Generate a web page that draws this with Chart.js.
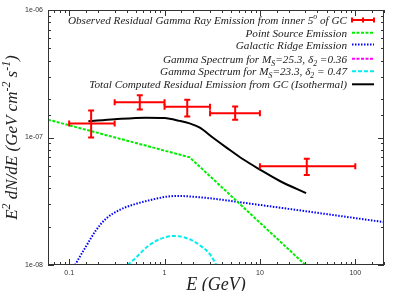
<!DOCTYPE html>
<html>
<head>
<meta charset="utf-8">
<script src="https://cdn.jsdelivr.net/npm/chart.js@4.4.1/dist/chart.umd.min.js"></script>
<style>
  html, body { margin: 0; padding: 0; background: #fff; }
  canvas { display: block; }
</style>
</head>
<body>
<canvas id="c" width="402" height="291"></canvas>
<script>
// observed residual emission, inner 5 deg (red error bars)
var obsE      = [0.17, 0.55, 1.73, 5.5, 31];
var obsELo    = [0.1, 0.3, 1, 3, 10];
var obsEHi    = [0.3, 1, 3, 10, 100];
var obsFlux   = [1.29e-7, 1.89e-7, 1.74e-7, 1.55e-7, 5.95e-8];
var obsFluxLo = [1.0e-7, 1.66e-7, 1.46e-7, 1.38e-7, 5.07e-8];
var obsFluxHi = [1.63e-7, 2.14e-7, 1.98e-7, 1.75e-7, 6.8e-8];

// point source emission
var psE    = [0.06, 1.83, 30];
var psFlux = [1.38e-7, 7.0e-8, 1.0e-8];

// galactic ridge emission
var grE    = [0.115, 0.151, 0.192, 0.245, 0.337, 0.461, 0.696, 1.04, 1.33, 2.33, 9.9, 200];
var grFlux = [1.0e-8, 1.41e-8, 1.88e-8, 2.32e-8, 2.70e-8, 2.96e-8, 3.22e-8, 3.43e-8, 3.48e-8, 3.40e-8, 2.96e-8, 2.17e-8];

// gamma spectrum Ms=25.3 (below the plotted range)
var gs1E    = [];
var gs1Flux = [];

// gamma spectrum Ms=23.3
var gs2E    = [0.41, 0.5, 0.65, 0.85, 1.27, 1.8, 2.4, 3.0, 3.5];
var gs2Flux = [1.0e-8, 1.14e-8, 1.38e-8, 1.57e-8, 1.69e-8, 1.60e-8, 1.41e-8, 1.21e-8, 1.0e-8];

// total computed residual emission (isothermal)
var totE    = [0.159, 0.3, 0.64, 1.0, 1.44, 1.83, 2.32, 3.2, 4.5, 6.6, 9.9, 16, 30.5];
var totFlux = [1.34e-7, 1.39e-7, 1.43e-7, 1.42e-7, 1.35e-7, 1.29e-7, 1.20e-7, 1.0e-7, 8.3e-8, 6.78e-8, 5.63e-8, 4.58e-8, 3.66e-8];

var xTickLabels = ['0.1', '1', '10', '100'];
var yTickLabels = ['1e-08', '1e-07', '1e-06'];

var legendNames = [
  'Observed Residual Gamma Ray Emission from inner 5^{o} of GC',
  'Point Source Emission',
  'Galactic Ridge Emission',
  'Gamma Spectrum for M_{S}=25.3, \u03b4_{2} =0.36',
  'Gamma Spectrum for M_{S}=23.3, \u03b4_{2} = 0.47',
  'Total Computed Residual Emission from GC (Isothermal)'
];

var serif = '"Liberation Serif", "DejaVu Serif", serif';

function pts(xs, ys) {
  return xs.map(function (v, i) { return { x: v, y: ys[i] }; });
}

function parseRich(s) {
  var out = [], re = /([_^])\{([^}]*)\}/g, last = 0, m;
  while ((m = re.exec(s))) {
    if (m.index > last) out.push([s.slice(last, m.index), 0]);
    out.push([m[2], m[1] === '^' ? 1 : -1]);
    last = re.lastIndex;
  }
  if (last < s.length) out.push([s.slice(last), 0]);
  return out;
}

function drawRich(ctx, s, x, y, size, align) {
  var parts = parseRich(s);
  var w = 0;
  parts.forEach(function (p) {
    ctx.font = 'italic ' + (p[1] ? size * 0.7 : size) + 'px ' + serif;
    w += ctx.measureText(p[0]).width;
  });
  var cx = align === 'right' ? x - w : (align === 'center' ? x - w / 2 : x);
  ctx.textAlign = 'left';
  ctx.textBaseline = 'alphabetic';
  parts.forEach(function (p) {
    ctx.font = 'italic ' + (p[1] ? size * 0.7 : size) + 'px ' + serif;
    var dy = p[1] === 1 ? -size * 0.42 : (p[1] === -1 ? size * 0.25 : 0);
    ctx.fillText(p[0], cx, y + dy);
    cx += ctx.measureText(p[0]).width;
  });
}

function isDecade(v) {
  var l = Math.log10(v);
  return Math.abs(l - Math.round(l)) < 1e-6;
}

var errorBars = {
  id: 'errorBars',
  afterDatasetsDraw: function (chart) {
    var ctx = chart.ctx, xs = chart.scales.x, ys = chart.scales.y, a = chart.chartArea;
    ctx.save();
    ctx.beginPath();
    ctx.rect(a.left, a.top, a.right - a.left, a.bottom - a.top);
    ctx.clip();
    ctx.strokeStyle = '#ff0000';
    ctx.lineWidth = 2;
    ctx.setLineDash([]);
    for (var i = 0; i < obsE.length; i++) {
      var px = xs.getPixelForValue(obsE[i]);
      var py = ys.getPixelForValue(obsFlux[i]);
      var x0 = xs.getPixelForValue(obsELo[i]), x1 = xs.getPixelForValue(obsEHi[i]);
      var y0 = ys.getPixelForValue(obsFluxLo[i]), y1 = ys.getPixelForValue(obsFluxHi[i]);
      ctx.beginPath();
      ctx.moveTo(x0, py); ctx.lineTo(x1, py);
      ctx.moveTo(x0, py - 3); ctx.lineTo(x0, py + 3);
      ctx.moveTo(x1, py - 3); ctx.lineTo(x1, py + 3);
      ctx.moveTo(px, y0); ctx.lineTo(px, y1);
      ctx.moveTo(px - 3, y0); ctx.lineTo(px + 3, y0);
      ctx.moveTo(px - 3, y1); ctx.lineTo(px + 3, y1);
      ctx.stroke();
    }
    ctx.restore();
  }
};

var frameAndText = {
  id: 'frameAndText',
  afterDraw: function (chart) {
    var ctx = chart.ctx, a = chart.chartArea, xs = chart.scales.x, ys = chart.scales.y;
    ctx.save();
    ctx.strokeStyle = '#333';
    ctx.lineWidth = 1;
    ctx.setLineDash([]);
    ctx.strokeRect(a.left + 0.5, a.top + 0.5, a.right - a.left - 1, a.bottom - a.top - 1);
    ctx.beginPath();
    xs.ticks.forEach(function (t) {
      var p = Math.round(xs.getPixelForValue(t.value)) + 0.5;
      var len = isDecade(t.value) ? 6 : 3;
      ctx.moveTo(p, a.bottom); ctx.lineTo(p, a.bottom - len);
      ctx.moveTo(p, a.top); ctx.lineTo(p, a.top + len);
    });
    ys.ticks.forEach(function (t) {
      var p = Math.round(ys.getPixelForValue(t.value)) + 0.5;
      var len = isDecade(t.value) ? 6 : 3;
      ctx.moveTo(a.left, p); ctx.lineTo(a.left + len, p);
      ctx.moveTo(a.right, p); ctx.lineTo(a.right - len, p);
    });
    ctx.stroke();

    // axis titles
    ctx.fillStyle = '#222';
    drawRich(ctx, 'E (GeV)', (a.left + a.right) / 2, 290, 18, 'center');
    ctx.save();
    ctx.translate(17, (a.top + a.bottom) / 2);
    ctx.rotate(-Math.PI / 2);
    drawRich(ctx, 'E^{2} dN/dE (GeV cm^{-2} s^{-1})', 0, 0, 17, 'center');
    ctx.restore();

    // legend
    var rowY = [20, 32.7, 44.5, 58.8, 71.2, 84.3];
    var textRight = 347, s0 = 352, s1 = 374;
    chart.data.datasets.forEach(function (ds, i) {
      var y = rowY[i];
      ctx.fillStyle = '#222';
      drawRich(ctx, ds.label, textRight, y + 4, 11.2, 'right');
      ctx.strokeStyle = ds.borderColor;
      ctx.lineWidth = 2;
      ctx.setLineDash(ds.borderDash || []);
      ctx.beginPath();
      ctx.moveTo(s0, y); ctx.lineTo(s1, y);
      if (ds.errorBars) {
        var m = (s0 + s1) / 2;
        ctx.moveTo(s0, y - 2.5); ctx.lineTo(s0, y + 2.5);
        ctx.moveTo(m, y - 2.5); ctx.lineTo(m, y + 2.5);
        ctx.moveTo(s1, y - 2.5); ctx.lineTo(s1, y + 2.5);
      }
      ctx.stroke();
    });
    ctx.restore();
  }
};

function lineSet(label, xs, ys, color, dash, extra) {
  var d = {
    type: 'line',
    label: label,
    data: pts(xs, ys),
    borderColor: color,
    borderWidth: 2,
    borderDash: dash,
    pointRadius: 0,
    fill: false,
    showLine: true
  };
  if (extra) for (var k in extra) d[k] = extra[k];
  return d;
}

new Chart(document.getElementById('c'), {
  type: 'scatter',
  data: {
    datasets: [
      { label: legendNames[0], data: pts(obsE, obsFlux), borderColor: '#ff0000', pointRadius: 0, errorBars: true },
      lineSet(legendNames[1], psE, psFlux, '#00ee00', [3, 1.5]),
      lineSet(legendNames[2], grE, grFlux, '#0000ff', [1.5, 1.5], { cubicInterpolationMode: 'monotone' }),
      lineSet(legendNames[3], gs1E, gs1Flux, '#ff00ff', [3, 1.5]),
      lineSet(legendNames[4], gs2E, gs2Flux, '#00eeee', [4, 2], { cubicInterpolationMode: 'monotone' }),
      lineSet(legendNames[5], totE, totFlux, '#000000', [], { cubicInterpolationMode: 'monotone' })
    ]
  },
  options: {
    responsive: false,
    animation: false,
    layout: { padding: { left: 0, right: 18, top: 10, bottom: 0 } },
    plugins: { legend: { display: false }, tooltip: { enabled: false } },
    scales: {
      x: {
        type: 'logarithmic',
        min: 0.06,
        max: 200,
        afterFit: function (s) { s.height = 26; },
        grid: { display: false, drawTicks: false },
        border: { display: false },
        ticks: {
          autoSkip: false,
          maxRotation: 0,
          padding: 4,
          color: '#333',
          font: { family: '"Liberation Sans", Arial, sans-serif', size: 7 },
          callback: function (v) {
            if (!isDecade(v)) return '';
            var idx = Math.round(Math.log10(v)) + 1;
            return xTickLabels[idx] || '';
          }
        }
      },
      y: {
        type: 'logarithmic',
        min: 1e-8,
        max: 1e-6,
        afterFit: function (s) { s.width = 48; },
        grid: { display: false, drawTicks: false },
        border: { display: false },
        ticks: {
          autoSkip: false,
          padding: 5,
          color: '#333',
          font: { family: '"Liberation Sans", Arial, sans-serif', size: 7 },
          callback: function (v) {
            if (!isDecade(v)) return '';
            var idx = Math.round(Math.log10(v)) + 8;
            return yTickLabels[idx] || '';
          }
        }
      }
    }
  },
  plugins: [errorBars, frameAndText]
});
</script>
</body>
</html>
